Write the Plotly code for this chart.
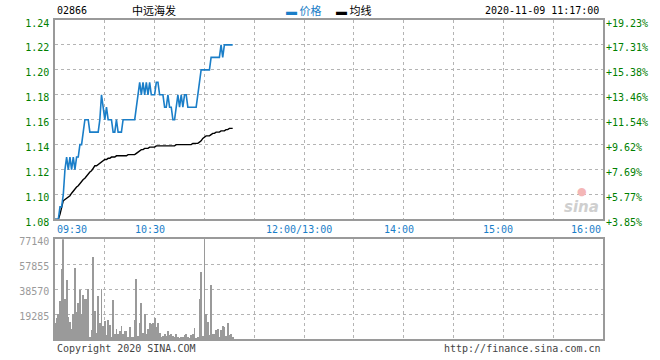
import plotly.graph_objects as go

# ---------------- data ----------------
times = [f"{(570 + i) // 60:02d}:{(570 + i) % 60:02d}" for i in range(108)]  # 09:30 .. 11:17

price = [1.08, 1.08, 1.08, 1.09, 1.09, 1.10, 1.12, 1.13, 1.12, 1.13,
         1.12, 1.13, 1.12, 1.13, 1.13, 1.14, 1.14, 1.15, 1.16, 1.16,
         1.16, 1.15, 1.15, 1.15, 1.15, 1.15, 1.15, 1.16, 1.18, 1.17,
         1.16, 1.17, 1.16, 1.16, 1.16, 1.15, 1.15, 1.16, 1.15, 1.15,
         1.15, 1.16, 1.16, 1.16, 1.16, 1.16, 1.16, 1.16, 1.16, 1.17,
         1.18, 1.19, 1.18, 1.19, 1.18, 1.19, 1.18, 1.19, 1.18, 1.18,
         1.18, 1.19, 1.19, 1.18, 1.18, 1.18, 1.17, 1.17, 1.18, 1.17,
         1.17, 1.16, 1.16, 1.17, 1.18, 1.17, 1.18, 1.17, 1.18, 1.18,
         1.17, 1.17, 1.17, 1.17, 1.17, 1.17, 1.18, 1.19, 1.20, 1.20,
         1.20, 1.20, 1.20, 1.20, 1.21, 1.21, 1.21, 1.21, 1.21, 1.21,
         1.22, 1.21, 1.22, 1.22, 1.22, 1.22, 1.22, 1.22]

avg_price = [1.080, 1.080, 1.080, 1.084, 1.091, 1.095, 1.096, 1.097, 1.098, 1.099,
             1.101, 1.103, 1.105, 1.106, 1.107, 1.109, 1.111, 1.112, 1.113, 1.115,
             1.117, 1.118, 1.119, 1.121, 1.123, 1.123, 1.124, 1.125, 1.126, 1.127,
             1.128, 1.128, 1.129, 1.129, 1.130, 1.130, 1.130, 1.131, 1.131, 1.131,
             1.131, 1.131, 1.131, 1.131, 1.132, 1.132, 1.132, 1.132, 1.132, 1.133,
             1.134, 1.135, 1.136, 1.136, 1.137, 1.137, 1.137, 1.138, 1.138, 1.138,
             1.138, 1.139, 1.139, 1.139, 1.139, 1.139, 1.139, 1.139, 1.139, 1.139,
             1.139, 1.139, 1.139, 1.140, 1.140, 1.140, 1.140, 1.140, 1.140, 1.140,
             1.140, 1.140, 1.140, 1.141, 1.141, 1.141, 1.141, 1.142, 1.143, 1.145,
             1.146, 1.147, 1.147, 1.147, 1.148, 1.149, 1.149, 1.150, 1.150, 1.150,
             1.151, 1.151, 1.151, 1.152, 1.152, 1.153, 1.153, 1.153]

volume = [12000, 16200, 19000, 29100, 54300, 77140, 30900, 45300, 17000, 13100,
          7700, 19000, 54800, 20800, 28000, 37500, 19000, 33700, 31100, 31100,
          38800, 1500, 6700, 63300, 21600, 4100, 33200, 12300, 38100, 9800,
          13900, 2600, 14400, 10500, 1500, 30300, 3600, 7700, 3400, 5900,
          9800, 3400, 5900, 5900, 800, 9300, 1500, 800, 14400, 46000,
          2300, 12300, 27800, 4100, 19000, 3400, 7200, 12300, 11100, 12300,
          15700, 9300, 12300, 4100, 1500, 2300, 3600, 2300, 5900, 2800,
          4000, 2000, 1500, 3500, 1000, 500, 1500, 1500, 3000, 3500,
          1500, 500, 3000, 3500, 8500, 500, 1000, 30800, 51400, 2000,
          77140, 19300, 12900, 2600, 41900, 3900, 3900, 6900, 7700, 1300,
          7000, 9800, 9000, 2000, 12300, 2600, 3900, 1500]

price_ticks = [1.08, 1.10, 1.12, 1.14, 1.16, 1.18, 1.20, 1.22, 1.24]
pct_labels = ["+3.85%", "+5.77%", "+7.69%", "+9.62%", "+11.54%",
              "+13.46%", "+15.38%", "+17.31%", "+19.23%"]
vol_ticks = [19285, 38570, 57855, 77140]
time_label_pos = ["09:30", "10:30", "12:00", "14:00", "15:00", "16:00"]
time_labels = ["09:30", "10:30", "12:00/13:00", "14:00", "15:00", "16:00"]

code = "02866"
name = "中远海发"
stamp = "2020-11-09 11:17:00"


def session_minute(t):
    h, m = map(int, t.split(":"))
    mins = h * 60 + m
    if mins <= 720:
        return mins - 570
    return mins - 780 + 150


x = [session_minute(t) for t in times]

GREEN = "#008000"
BLUE = "#1a7ec8"
GRAY = "#9a9a9a"
GRID = "#b4b4b4"
FONT = "DejaVu Sans Mono"

fig = go.Figure()
fig.add_trace(go.Bar(x=x, y=volume, xaxis="x2", yaxis="y2", width=0.5,
                     marker=dict(color=GRAY, line=dict(width=0)), hoverinfo="skip"))
fig.add_trace(go.Scatter(x=x, y=avg_price, mode="lines", xaxis="x", yaxis="y",
                         line=dict(color="#000000", width=1.4), hoverinfo="skip"))
fig.add_trace(go.Scatter(x=x, y=price, mode="lines", xaxis="x", yaxis="y",
                         line=dict(color=BLUE, width=1.6), hoverinfo="skip"))
# invisible trace for right axis
fig.add_trace(go.Scatter(x=[x[0]], y=[price[0]], mode="markers", xaxis="x", yaxis="y3",
                         marker=dict(opacity=0), hoverinfo="skip"))

xcommon = dict(range=[0, 330], tickvals=list(range(0, 331, 30)), showticklabels=False,
               showgrid=True, gridcolor=GRID, griddash="dot", gridwidth=1,
               showline=True, linecolor=GRAY, linewidth=1.5, mirror=True,
               zeroline=False, ticks="", fixedrange=True)

fig.update_layout(
    width=660, height=360,
    margin=dict(l=55, r=55, t=20, b=20),
    paper_bgcolor="white", plot_bgcolor="white",
    showlegend=False,
    font=dict(family=FONT, size=10, color="#000"),
    bargap=0,
    xaxis=dict(domain=[0, 1], anchor="y", **xcommon),
    xaxis2=dict(domain=[0, 1], anchor="y2", **xcommon),
    yaxis=dict(domain=[0.375, 1], anchor="x", range=[1.08, 1.24],
               tickvals=price_ticks, ticktext=[f"{v:.2f}" for v in price_ticks],
               tickfont=dict(color=GREEN, size=10, family=FONT),
               showgrid=True, gridcolor=GRID, griddash="dot",
               showline=True, linecolor=GRAY, linewidth=1.5, mirror=True,
               zeroline=False, ticks="", ticklabelstandoff=2, ticklabelshift=3),
    yaxis3=dict(overlaying="y", side="right", anchor="x", range=[1.08, 1.24],
                tickvals=price_ticks, ticktext=pct_labels,
                tickfont=dict(color=GREEN, size=10, family=FONT),
                showgrid=False, zeroline=False, showline=False, ticks="",
                ticklabelstandoff=2, ticklabelshift=3),
    yaxis2=dict(domain=[0, 0.3125], anchor="x2", range=[0, 77140],
                tickvals=vol_ticks, ticktext=[str(v) for v in vol_ticks],
                tickfont=dict(color=GRAY, size=10, family=FONT),
                showgrid=True, gridcolor=GRID, griddash="dot",
                showline=True, linecolor=GRAY, linewidth=1.5, mirror=True,
                zeroline=False, ticks="", ticklabelstandoff=2, ticklabelshift=2),
)

ann = []
# time labels between the two panels
for pos, lab in zip(time_label_pos, time_labels):
    xv = session_minute(pos)
    if xv == 0:
        anchor, shift = "left", 0
    elif xv == 330:
        anchor, shift = "right", 0
    else:
        anchor, shift = "center", -5
    ann.append(dict(x=xv, xref="x", y=0.344, yref="paper", text=lab, showarrow=False,
                    xanchor=anchor, yanchor="middle", xshift=shift,
                    font=dict(color=BLUE, size=10, family=FONT)))

# header
ann.append(dict(x=0, xref="paper", y=1.031, yref="paper", text=code, showarrow=False,
                xanchor="left", yanchor="middle", font=dict(size=10, family=FONT)))
ann.append(dict(x=0.136, xref="paper", y=1.031, yref="paper", text=name, showarrow=False,
                xanchor="left", yanchor="middle",
                font=dict(size=11, family="Noto Sans CJK SC")))
ann.append(dict(x=0.418, xref="paper", y=1.031, yref="paper",
                text=f"<span style='color:{BLUE}'>▬</span> <span style='color:{BLUE}'>价格</span>",
                showarrow=False, xanchor="left", yanchor="middle",
                font=dict(size=11, family="Noto Sans CJK SC")))
ann.append(dict(x=0.509, xref="paper", y=1.031, yref="paper",
                text="▬ 均线", showarrow=False, xanchor="left", yanchor="middle",
                font=dict(size=11, family="Noto Sans CJK SC", color="#000")))
ann.append(dict(x=0.996, xref="paper", y=1.031, yref="paper", text=stamp, showarrow=False,
                xanchor="right", yanchor="middle", font=dict(size=10, family=FONT)))

# footer
ann.append(dict(x=0, xref="paper", y=-0.031, yref="paper", text="Copyright 2020 SINA.COM",
                showarrow=False, xanchor="left", yanchor="middle",
                font=dict(size=10, family=FONT, color="#444")))
ann.append(dict(x=1, xref="paper", y=-0.031, yref="paper", text="http://finance.sina.com.cn",
                showarrow=False, xanchor="right", yanchor="middle",
                font=dict(size=10, family=FONT, color="#444")))

# watermark
ann.append(dict(x=0.96, xref="paper", y=0.415, yref="paper", text="sina", showarrow=False,
                xanchor="center", yanchor="middle",
                font=dict(size=15, family="DejaVu Sans", color="#cfcfcf", weight="bold",
                          style="italic")))
ann.append(dict(x=0.962, xref="paper", y=0.462, yref="paper", text="●", showarrow=False,
                xanchor="center", yanchor="middle",
                font=dict(size=11, family="DejaVu Sans", color="#f4b6b6")))

fig.update_layout(annotations=ann)

fig.write_html("out.html")
